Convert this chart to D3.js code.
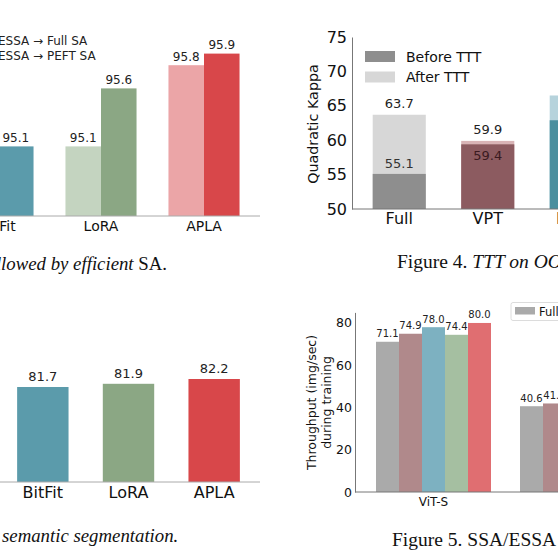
<!DOCTYPE html>
<html>
<head>
<meta charset="utf-8">
<script src="https://cdn.jsdelivr.net/npm/d3@7"></script>
<style>
  body { margin: 0; background: #fff; }
  text { font-family: "DejaVu Sans", sans-serif; }
  .cap { font-family: "Liberation Serif", "Times New Roman", serif; }
</style>
</head>
<body>
<div id="chart"></div>
<script>
const W = 558, H = 559;

// panel A: ESSA followed by SA (values visible in the crop)
const saMethods = ["BitFit", "LoRA", "APLA"];
const saFull = [null, 95.1, 95.8];
const saPeft = [95.1, 95.6, 95.9];
const saLegend = ["ESSA \u2192 Full SA", "ESSA \u2192 PEFT SA"];

// panel B: TTT on OOD
const tttMethods = ["Full", "VPT", "BitFit"];
const tttBefore = [55.1, 59.4, 62.9];
const tttAfter = [63.7, 59.9, 66.5];
const tttTicks = [50, 55, 60, 65, 70, 75];
const tttLegend = ["Before TTT", "After TTT"];

// panel C: semantic segmentation
const segMethods = ["BitFit", "LoRA", "APLA"];
const segValues = [81.7, 81.9, 82.2];

// panel D: throughput
const tpModels = ["ViT-S", "ViT-B"];
const tpMethods = ["Full", "VPT", "BitFit", "LoRA", "APLA"];
const tpValues = [
  [71.1, 74.9, 78.0, 74.4, 80.0],
  [40.6, 41.9, null, null, null]
];
const tpTicks = [0, 20, 40, 60, 80];

const svg = d3.select("#chart").append("svg")
    .attr("width", W).attr("height", H);
svg.append("rect").attr("width", W).attr("height", H).attr("fill", "#fff");

// ---------- panel A ----------
{
  const g = svg.append("g");
  const x = d3.scaleBand().domain(saMethods).range([-53.5, 255.5])
      .paddingInner(0.31).paddingOuter(0.155);
  const y = d3.scaleLinear().domain([94.5, 96]).range([216, 42]);
  const lightC = ["#a9cdd6", "#c4d4c0", "#eba5a7"];
  const darkC = ["#5b9bab", "#8ba784", "#d8474a"];
  const bw = x.bandwidth() / 2;

  saMethods.forEach((m, i) => {
    [[saFull[i], lightC[i], 0], [saPeft[i], darkC[i], 1]].forEach(([v, c, k]) => {
      if (v == null) return;
      const x0 = x(m) + k * bw;
      g.append("rect").attr("x", x0).attr("y", y(v))
          .attr("width", bw).attr("height", y.range()[0] - y(v)).attr("fill", c);
      g.append("text").attr("x", x0 + bw / 2).attr("y", y(v) - 4.5)
          .attr("text-anchor", "middle").attr("font-size", 12).attr("fill", "#222")
          .text(v.toFixed(1));
    });
  });

  const xAxis = g.append("g").attr("transform", "translate(0,216)")
      .call(d3.axisBottom(x).tickSize(0).tickPadding(5));
  xAxis.select(".domain").attr("d", "M0,0H260").attr("stroke", "#aaa");
  xAxis.selectAll("text").attr("font-size", 14).attr("fill", "#111")
      .attr("font-family", "DejaVu Sans");

  saLegend.forEach((t, i) => {
    g.append("text").attr("x", -2).attr("y", 45 + i * 14.5)
        .attr("font-size", 12).attr("fill", "#222").text(t);
  });

  svg.append("text").attr("class", "cap").attr("x", 167).attr("y", 270)
      .attr("text-anchor", "end").attr("font-size", 18.8).attr("fill", "#111")
      .html('<tspan font-style="italic">followed by efficient</tspan> SA.');
}

// ---------- panel B ----------
{
  const g = svg.append("g");
  const x = d3.scaleBand().domain(tttMethods).range([355, 620.5])
      .paddingInner(0.4).paddingOuter(0.2);
  const y = d3.scaleLinear().domain([50, 75]).range([209, 37]);
  const beforeC = ["#8e8e8e", "#8c5b60", "#4a8f9e"];
  const afterC = ["#d7d7d7", "#d9b4b6", "#b6d3dc"];

  tttMethods.forEach((m, i) => {
    const b = tttBefore[i], a = tttAfter[i];
    g.append("rect").attr("x", x(m)).attr("y", y(a)).attr("width", x.bandwidth())
        .attr("height", y(50) - y(a)).attr("fill", afterC[i]);
    g.append("rect").attr("x", x(m)).attr("y", y(b)).attr("width", x.bandwidth())
        .attr("height", y(50) - y(b)).attr("fill", beforeC[i]);
    const cx = x(m) + x.bandwidth() / 2;
    g.append("text").attr("x", cx).attr("y", y(a) - 6.5).attr("text-anchor", "middle")
        .attr("font-size", 13).attr("fill", "#222").text(a.toFixed(1));
    const inside = a - b < 2;
    g.append("text").attr("x", cx).attr("y", inside ? y(b) + 15.5 : y(b) - 6)
        .attr("text-anchor", "middle").attr("font-size", 13)
        .attr("fill", inside ? "#3a1a1f" : "#333").text(b.toFixed(1));
  });

  const yAxis = g.append("g").attr("transform", "translate(352,0)")
      .call(d3.axisLeft(y).tickValues(tttTicks).tickSize(0).tickPadding(5));
  yAxis.select(".domain").attr("stroke", "#777");
  yAxis.selectAll("text").attr("font-size", 16).attr("fill", "#111")
      .attr("font-family", "DejaVu Sans");

  const xAxis = g.append("g").attr("transform", "translate(0,209)")
      .call(d3.axisBottom(x).tickSize(0).tickPadding(4));
  xAxis.select(".domain").attr("d", "M352,0H560").attr("stroke", "#777");
  xAxis.selectAll("text").attr("font-size", 16).attr("fill", "#111")
      .attr("font-family", "DejaVu Sans");

  g.append("text").attr("transform", "translate(318,124) rotate(-90)")
      .attr("text-anchor", "middle").attr("font-size", 14.3).attr("fill", "#111")
      .text("Quadratic Kappa");

  tttLegend.forEach((t, i) => {
    g.append("rect").attr("x", 365).attr("y", 51 + i * 20.5).attr("width", 30)
        .attr("height", 11).attr("fill", i === 0 ? beforeC[0] : afterC[0]);
    g.append("text").attr("x", 406).attr("y", 61.5 + i * 20.5)
        .attr("font-size", 14).attr("fill", "#111").text(t);
  });

  svg.append("text").attr("class", "cap").attr("x", 397).attr("y", 268)
      .attr("font-size", 19.5).attr("fill", "#111")
      .html('Figure 4. <tspan font-style="italic">TTT on OOD</tspan>');
}

// ---------- panel C ----------
{
  const g = svg.append("g");
  const x = d3.scaleBand().domain(segMethods).range([0, 257])
      .paddingInner(0.4).paddingOuter(0.2);
  const y = d3.scaleLinear().domain([75.76, 82.2]).range([482, 379]);
  const colC = ["#5b9bab", "#8ba784", "#d8474a"];

  segMethods.forEach((m, i) => {
    const v = segValues[i];
    g.append("rect").attr("x", x(m)).attr("y", y(v)).attr("width", x.bandwidth())
        .attr("height", 482 - y(v)).attr("fill", colC[i]);
    g.append("text").attr("x", x(m) + x.bandwidth() / 2).attr("y", y(v) - 6)
        .attr("text-anchor", "middle").attr("font-size", 13).attr("fill", "#222")
        .text(v.toFixed(1));
  });

  const xAxis = g.append("g").attr("transform", "translate(0,482)")
      .call(d3.axisBottom(x).tickSize(0).tickPadding(5));
  xAxis.select(".domain").attr("d", "M0,0H260").attr("stroke", "#aaa");
  xAxis.selectAll("text").attr("font-size", 16).attr("fill", "#111")
      .attr("font-family", "DejaVu Sans");

  svg.append("text").attr("class", "cap").attr("x", 2).attr("y", 542)
      .attr("font-size", 18.8).attr("font-style", "italic").attr("fill", "#111")
      .text("semantic segmentation.");
}

// ---------- panel D ----------
{
  const g = svg.append("g");
  const x0 = d3.scaleBand().domain(tpModels).range([361.5, 649.5])
      .paddingInner(0.2014).paddingOuter(0.1007);
  const x1 = d3.scaleBand().domain(tpMethods).range([0, x0.bandwidth()]);
  const y = d3.scaleLinear().domain([0, 85]).range([492, 312.4]);
  const colD = ["#aaaaaa", "#b0898b", "#7db1c1", "#a5bfa1", "#e06e71"];

  tpModels.forEach((mod, gi) => {
    tpMethods.forEach((m, i) => {
      const v = tpValues[gi][i];
      if (v == null) return;
      const bx = x0(mod) + x1(m);
      g.append("rect").attr("x", bx).attr("y", y(v)).attr("width", x1.bandwidth())
          .attr("height", y(0) - y(v)).attr("fill", colD[i]);
      g.append("text").attr("x", bx + x1.bandwidth() / 2).attr("y", y(v) - 4.5)
          .attr("text-anchor", "middle").attr("font-size", 10).attr("fill", "#222")
          .text(v.toFixed(1));
    });
  });

  const yAxis = g.append("g").attr("transform", "translate(355,0)")
      .call(d3.axisLeft(y).tickValues(tpTicks).tickSize(0).tickPadding(3));
  yAxis.select(".domain").attr("stroke", "#777");
  yAxis.selectAll("text").attr("font-size", 12.5).attr("fill", "#111")
      .attr("font-family", "DejaVu Sans");

  const xAxis = g.append("g").attr("transform", "translate(0,492)")
      .call(d3.axisBottom(x0).tickSize(0).tickPadding(5));
  xAxis.select(".domain").attr("d", "M355,0H560").attr("stroke", "#777");
  xAxis.selectAll("text").attr("font-size", 12).attr("fill", "#111")
      .attr("font-family", "DejaVu Sans");

  const yl = g.append("text").attr("transform", "translate(316,402.5) rotate(-90)")
      .attr("text-anchor", "middle").attr("font-size", 12.5).attr("fill", "#111");
  yl.append("tspan").attr("x", 0).attr("dy", 0).text("Throughput (img/sec)");
  yl.append("tspan").attr("x", 0).attr("dy", 15).text("during training");

  g.append("rect").attr("x", 511).attr("y", 302.5).attr("width", 80).attr("height", 18)
      .attr("rx", 2).attr("fill", "#fff").attr("stroke", "#dcdcdc");
  g.append("rect").attr("x", 515).attr("y", 307).attr("width", 20).attr("height", 7.5)
      .attr("fill", colD[0]);
  g.append("text").attr("x", 539).attr("y", 315.5).attr("font-size", 11.5)
      .attr("fill", "#111").text(tpMethods[0]);

  svg.append("text").attr("class", "cap").attr("x", 392).attr("y", 546)
      .attr("font-size", 19.5).attr("fill", "#111")
      .text("Figure 5. SSA/ESSA");
}
</script>
</body>
</html>
